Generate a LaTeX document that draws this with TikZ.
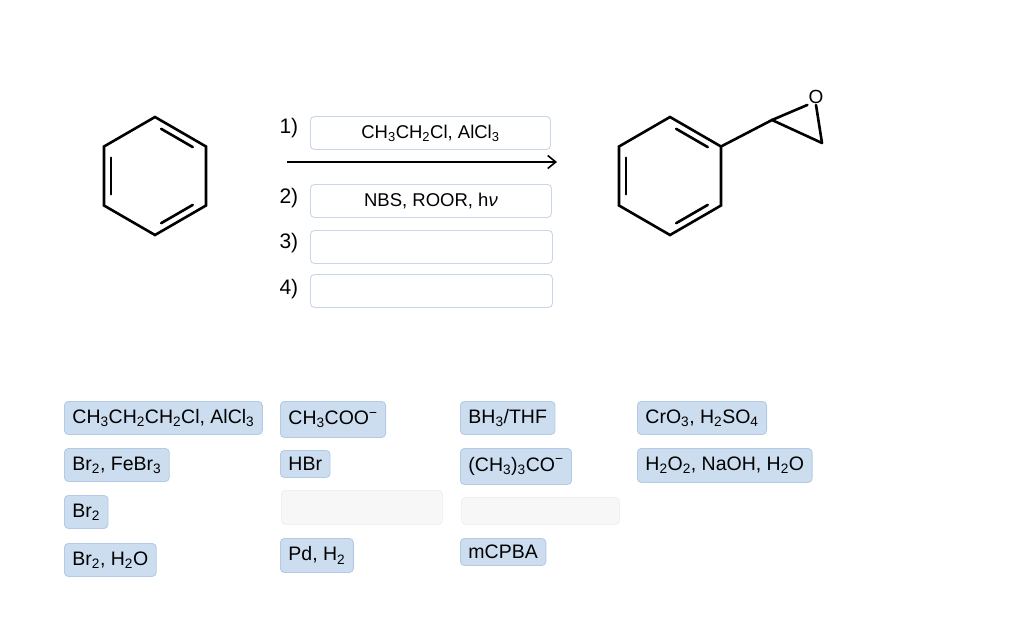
\documentclass[tikz,border=0pt]{standalone}
\usepackage{fontspec}
\setmainfont{Liberation Sans}
\usetikzlibrary{arrows.meta,calc}
\newcommand{\sbx}[1]{\textsubscript{#1}}
\newcommand{\spx}[1]{\textsuperscript{#1}}
\begin{document}
\begin{tikzpicture}[x=1pt,y=-1pt,
  bond/.style={line width=2.6pt,line cap=round},
  tile/.style={draw=tileedge,fill=tilefill,rounded corners=4pt,line width=0.9pt,anchor=north west,inner xsep=8pt,inner ysep=0pt,minimum height=#1,font=\fontsize{19.5}{22}\selectfont},
  tile/.default=33pt,
  blank/.style={draw=gray!12,fill=gray!6,rounded corners=4pt,line width=0.9pt,anchor=north west,minimum width=#1,minimum height=30pt,inner sep=0pt},
  slot/.style={draw=slotedge,rounded corners=4pt,line width=0.9pt,anchor=north west,minimum width=241pt,minimum height=33pt,inner sep=0pt,font=\fontsize{18.5}{21}\selectfont},
  num/.style={font=\fontsize{21}{23}\selectfont,anchor=west}]
\definecolor{tilefill}{HTML}{CDDDF0}
\definecolor{tileedge}{HTML}{B3CAE6}
\definecolor{slotedge}{HTML}{C8D6E8}
\useasboundingbox (0,0) rectangle (1024,616);
\newcommand{\ring}[3]{% prefix, cx, cy
  \coordinate (#1c) at (#2,#3);
  \coordinate (#11) at (#2,#3-59);
  \coordinate (#12) at (#2+51,#3-29.5);
  \coordinate (#13) at (#2+51,#3+29.5);
  \coordinate (#14) at (#2,#3+59);
  \coordinate (#15) at (#2-51,#3+29.5);
  \coordinate (#16) at (#2-51,#3-29.5);
  \draw[bond] (#11)--(#12)--(#13)--(#14)--(#15)--(#16)--cycle;
  \foreach \p/\q in {1/2,3/4,5/6}
    \draw[bond] ($(#1c)!0.86!($(#1\p)!0.14!(#1\q)$)$) -- ($(#1c)!0.86!($(#1\p)!0.86!(#1\q)$)$);
}
\ring{L}{155}{176}
\ring{R}{670}{176}
\coordinate (E1) at (772,120);
\coordinate (E2) at (822,143);
\node[font=\fontsize{19}{22}\selectfont,inner sep=1pt] (O) at (816,97) {O};
\draw[bond] (R2)--(E1)--(E2);
\draw[bond] (E1)--(O.south west);
\draw[bond] (E2)--(O.south);
% arrow
\coordinate (A0) at (287,162);
\coordinate (A1) at (557,162);
\draw[line width=1.6pt,-{Straight Barb[length=8pt,width=13pt,line width=1.6pt]}] (A0)--(A1);
\node[num] (n1) at (276,128) {1)};
\node[num] (n2) at (276,198) {2)};
\node[num] (n3) at (276,243) {3)};
\node[num] (n4) at (276,289) {4)};
\node[slot,minimum width=240pt] (s1) at (310,116) {CH\sbx{3}CH\sbx{2}Cl, AlCl\sbx{3}};
\node[slot] (s2) at (310,184) {NBS, ROOR, h\textit{ν}};
\node[slot,minimum width=242pt] (s3) at (310,230) {};
\node[slot,minimum width=242pt] (s4) at (310,274) {};
% tiles
\node[tile] (t1) at (64,401) {CH\sbx{3}CH\sbx{2}CH\sbx{2}Cl, AlCl\sbx{3}};
\node[tile] (t2) at (64,448) {Br\sbx{2}, FeBr\sbx{3}};
\node[tile] (t3) at (64,495) {Br\sbx{2}};
\node[tile] (t4) at (64,543) {Br\sbx{2}, H\sbx{2}O};
\node[tile=36pt] (t5) at (280,401) {CH\sbx{3}COO\spx{−}};
\node[tile=27pt] (t6) at (280,450) {HBr};
\node[blank=161pt,minimum height=34pt] (b1) at (281,490) {};
\node[tile=34pt] (t7) at (280,538) {Pd, H\sbx{2}};
\node[tile] (t8) at (460,401) {BH\sbx{3}/THF};
\node[tile=36pt] (t9) at (460,448) {(CH\sbx{3})\sbx{3}CO\spx{−}};
\node[blank=158pt,minimum height=27pt] (b2) at (461,497) {};
\node[tile=27pt] (t10) at (460,538) {mCPBA};
\node[tile] (t11) at (637,401) {CrO\sbx{3}, H\sbx{2}SO\sbx{4}};
\node[tile=34pt] (t12) at (637,448) {H\sbx{2}O\sbx{2}, NaOH, H\sbx{2}O};
\end{tikzpicture}
\end{document}
